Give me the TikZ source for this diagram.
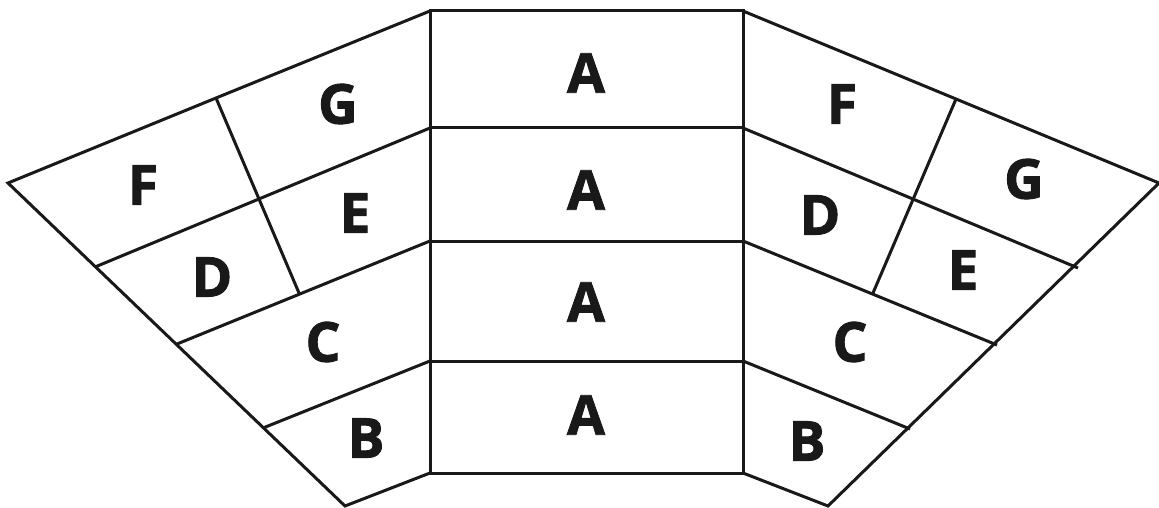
\documentclass[tikz,border=0pt]{standalone}
\usepackage{fontspec}
\setmainfont{Open Sans}[BoldFeatures={FakeBold=1.6}]
\usepackage{tikz}

\tikzset{
  seat/.style={font=\fontsize{55}{55}\selectfont\bfseries, inner sep=0pt, text=black!90},
  edge/.style={draw=black!90, line width=3pt, line join=miter}
}

\begin{document}
\begin{tikzpicture}[x=1pt, y=-1pt]
\useasboundingbox (0,0) rectangle (1159,508);

% centre block
\coordinate (c0l) at (430,11);  \coordinate (c0r) at (743,11);
\coordinate (c1l) at (430,128); \coordinate (c1r) at (743,128);
\coordinate (c2l) at (430,241); \coordinate (c2r) at (743,241);
\coordinate (c3l) at (430,361); \coordinate (c3r) at (743,361);
\coordinate (c4l) at (430,473); \coordinate (c4r) at (743,473);

% left wing
\coordinate (Ltip) at (8,183);
\coordinate (Ltop) at (216,98);
\coordinate (L1) at (95,267);
\coordinate (L2) at (177,344);
\coordinate (L3) at (263,428);
\coordinate (Lbot) at (345,506);
\coordinate (Ldiv) at (299,293);

% right wing
\coordinate (Rtip) at (1159,183);
\coordinate (Rtop) at (956,99);
\coordinate (R1) at (1078,268);
\coordinate (R2) at (997,345);
\coordinate (R3) at (910,429);
\coordinate (Rbot) at (828,506);
\coordinate (Rdiv) at (873,293);

\draw[edge] (c0l) rectangle (c4r);
\draw[edge] (c1l) -- (c1r);
\draw[edge] (c2l) -- (c2r);
\draw[edge] (c3l) -- (c3r);

\draw[edge] (c0l) -- (Ltop) -- (Ltip) -- (Lbot) -- (c4l);
\draw[edge] (c1l) -- (L1);
\draw[edge] (c2l) -- (L2);
\draw[edge] (c3l) -- (L3);
\draw[edge] (Ltop) -- (Ldiv);

\draw[edge] (c0r) -- (Rtop) -- (Rtip) -- (Rbot) -- (c4r);
\draw[edge] (c1r) -- (R1);
\draw[edge] (c2r) -- (R2);
\draw[edge] (c3r) -- (R3);
\draw[edge] (Rtop) -- (Rdiv);

% seat labels
\node[seat] (A1) at (586,73) {A};
\node[seat] (A2) at (586,190) {A};
\node[seat] (A3) at (586,302) {A};
\node[seat] (A4) at (586,415) {A};

\node[seat] (LF) at (143,185) {F};
\node[seat] (LG) at (338,104) {G};
\node[seat] (LE) at (355,213) {E};
\node[seat] (LD) at (212,277) {D};
\node[seat] (LC) at (323,342) {C};
\node[seat] (LB) at (366,438) {B};

\node[seat] (RF) at (842,104) {F};
\node[seat] (RG) at (1024,179) {G};
\node[seat] (RD) at (820,215) {D};
\node[seat] (RE) at (963,270) {E};
\node[seat] (RC) at (850,342) {C};
\node[seat] (RB) at (807,441) {B};
\end{tikzpicture}
\end{document}
